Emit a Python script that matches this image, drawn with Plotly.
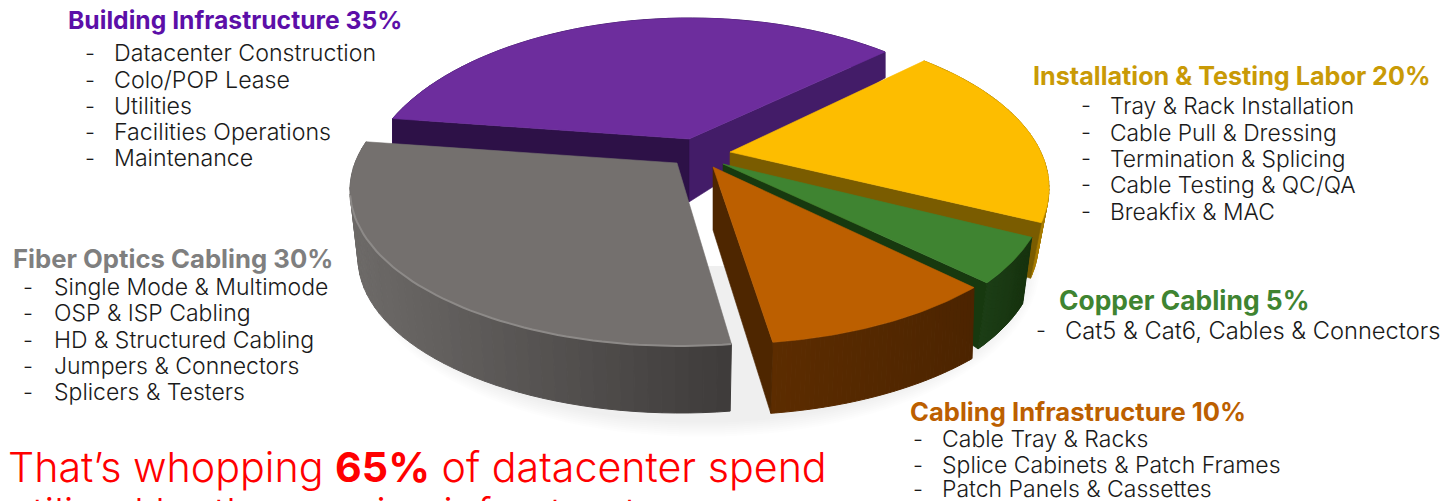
import math
import plotly.graph_objects as go

W, H = 1446, 501

# ---- data ----
categories = ["Building Infrastructure", "Installation & Testing Labor", "Copper Cabling",
              "Cabling Infrastructure", "Fiber Optics Cabling"]
shares = [35, 20, 5, 10, 30]
top_colors = ["#6d2d9d", "#fdbd00", "#3f8431", "#bc5f00", "#74706e"]
title_colors = ["#5c0fa8", "#c99a06", "#3f8431", "#bc5f00", "#7f7f7f"]
building_items = ["Datacenter Construction", "Colo/POP Lease", "Utilities", "Facilities Operations", "Maintenance"]
labor_items = ["Tray & Rack Installation", "Cable Pull & Dressing", "Termination & Splicing",
               "Cable Testing & QC/QA", "Breakfix & MAC"]
copper_items = ["Cat5 & Cat6, Cables & Connectors"]
infra_items = ["Cable Tray & Racks", "Splice Cabinets & Patch Frames", "Patch Panels & Cassettes"]
fiber_items = ["Single Mode & Multimode", "OSP & ISP Cabling", "HD & Structured Cabling",
               "Jumpers & Connectors", "Splicers & Testers"]
items = [building_items, labor_items, copper_items, infra_items, fiber_items]

# ---- drawing geometry: perspective-style placement of each slice (pixels) ----
GEOM = [
    dict(apex=(689, 139), c=(690, 190), r=(327, 172), start=53.4, k=0.81, ad=63,
         wall=(0, 26), wr=(327, 172), face="#431c68", lface="#2d1147", wc=("#431c68", "#431c68")),
    dict(apex=(730, 152), c=(720, 188), r=(329, 162), start=51.7, k=-0.89, ad=36,
         wall=(-4, 57), wr=(322, 155), face=None, lface="#7a5c00", wc=("#a87c00", "#a87c00")),
    dict(apex=(723, 164), c=(720, 190), r=(326, 162), start=-17, k=-1.0, ad=14,
         wall=(-9, 66), wr=(326, 162), face=None, lface="#17390f", wc=("#1b3d15", "#17330f")),
    dict(apex=(713, 167), c=(725, 180), r=(330, 164), start=-41, k=-1.13, ad=63,
         wall=(-2, 71), wr=(330, 164), face=None, lface="#4e2600", wc=("#5c2c00", "#4c2400")),
    dict(apex=(677, 163), c=(680, 190), r=(330, 156), start=162, k=1.083, ad=0,
         wall=(0, 68), wr=(322, 155), face=None, lface=None, wc=("#6d6a68", "#3e3b3a")),
]
FONT = "Inter"


def arc(c, r, t0, t1, n):
    pts = []
    for i in range(n + 1):
        t = math.radians(t0 + (t1 - t0) * i / n)
        pts.append((c[0] + r[0] * math.cos(t), c[1] - r[1] * math.sin(t)))
    return pts


def poly(fig, pts, color, lw=0.6):
    xs = [p[0] for p in pts] + [pts[0][0]]
    ys = [p[1] for p in pts] + [pts[0][1]]
    fig.add_trace(go.Scatter(x=xs, y=ys, mode="lines", fill="toself", fillcolor=color,
                             line=dict(color=color, width=lw), hoverinfo="skip", showlegend=False))


def mix(a, b, f):
    ca = [int(a[i:i + 2], 16) for i in (1, 3, 5)]
    cb = [int(b[i:i + 2], 16) for i in (1, 3, 5)]
    return "#%02x%02x%02x" % tuple(round(x + (y - x) * f) for x, y in zip(ca, cb))


fig = go.Figure()

# soft floor shadow
for i in range(8):
    g = 8 - i
    poly(fig, arc((702, 266), (322 + g * 2, 155 + g * 2), 180, 360, 60), "rgba(0,0,0,0.008)", 0)

for idx in range(5):
    g = GEOM[idx]
    t0 = g["start"]
    t1 = t0 + shares[idx] * 3.6 * g["k"]
    n = 48
    top = arc(g["c"], g["r"], t0, t1, n)
    wc = (g["c"][0] + g["wall"][0], g["c"][1] + g["wall"][1])
    bot = arc(wc, g["wr"], t0, t1, n)
    ax, ay = g["apex"]
    # outer wall, shaded in vertical bands
    xmin, xmax = min(p[0] for p in top), max(p[0] for p in top)
    for i in range(n):
        f = ((top[i][0] + top[i + 1][0]) / 2 - xmin) / max(xmax - xmin, 1)
        poly(fig, [top[i], top[i + 1], bot[i + 1], bot[i]], mix(g["wc"][0], g["wc"][1], f), 1)
    # inner faces
    if g["face"]:
        poly(fig, [(ax, ay), top[0], bot[0], (ax, ay + g["ad"])], g["face"])
    if g["lface"]:
        poly(fig, [(ax, ay), top[-1], bot[-1], (ax, ay + g["ad"])], g["lface"])
    # top surface
    poly(fig, [(ax, ay)] + top, top_colors[idx])
    if idx == 4:
        lip = arc(g["c"], g["r"], 182, t1, 60)
        fig.add_trace(go.Scatter(x=[p[0] for p in lip], y=[p[1] for p in lip], mode="lines",
                                 line=dict(color="#8d8a88", width=2), hoverinfo="skip", showlegend=False))

# ---- text placement ----
TEXT = [
    dict(tx=68, ty=20, ts=24.7, dx=85, ix=114, size=23.2, ys=[53, 80, 106, 132, 158]),
    dict(tx=1033, ty=76, ts=25.2, dx=1081, ix=1110, size=22.8, ys=[105, 132, 158, 184, 211]),
    dict(tx=1059, ty=300, ts=26.4, dx=1036, ix=1065, size=23.7, ys=[330]),
    dict(tx=910, ty=411, ts=25.6, dx=913, ix=942, size=23, ys=[439, 465, 489]),
    dict(tx=13, ty=258, ts=25.7, dx=23, ix=54, size=23, ys=[287, 313, 340, 366, 392]),
]
ann = []


def label(x, y, s, size, color, anchor="middle", weight=None):
    f = dict(family=FONT, size=size, color=color)
    if weight:
        f["weight"] = weight
    ann.append(dict(x=x, y=y, xref="x", yref="y", text=s, showarrow=False, xanchor="left", yanchor=anchor,
                    font=f, borderpad=0, borderwidth=0))


for i, t in enumerate(TEXT):
    label(t["tx"], t["ty"], f"<b>{categories[i]} {shares[i]}%</b>", t["ts"], title_colors[i])
    for y, it in zip(t["ys"], items[i]):
        label(t["dx"], y, "-", 22, "#1a1a1a", weight=300)
        label(t["ix"], y, it, t["size"], "#1a1a1a", weight=300)

label(8, 467, "That\u2019s whopping <b>65%</b> of datacenter spend", 41.2, "#ff0000", weight=300)
label(8, 488, "utilized by the passive infrastructure", 41.2, "#ff0000", anchor="top", weight=300)

fig.update_layout(width=W, height=H, margin=dict(l=0, r=0, t=0, b=0), showlegend=False,
                  paper_bgcolor="white", plot_bgcolor="white", annotations=ann,
                  xaxis=dict(range=[0, W], visible=False, fixedrange=True),
                  yaxis=dict(range=[H, 0], visible=False, fixedrange=True))
fig.write_html("out.html", config={"displayModeBar": False},
               post_script="document.body.style.margin='0';document.body.style.overflow='hidden';")
